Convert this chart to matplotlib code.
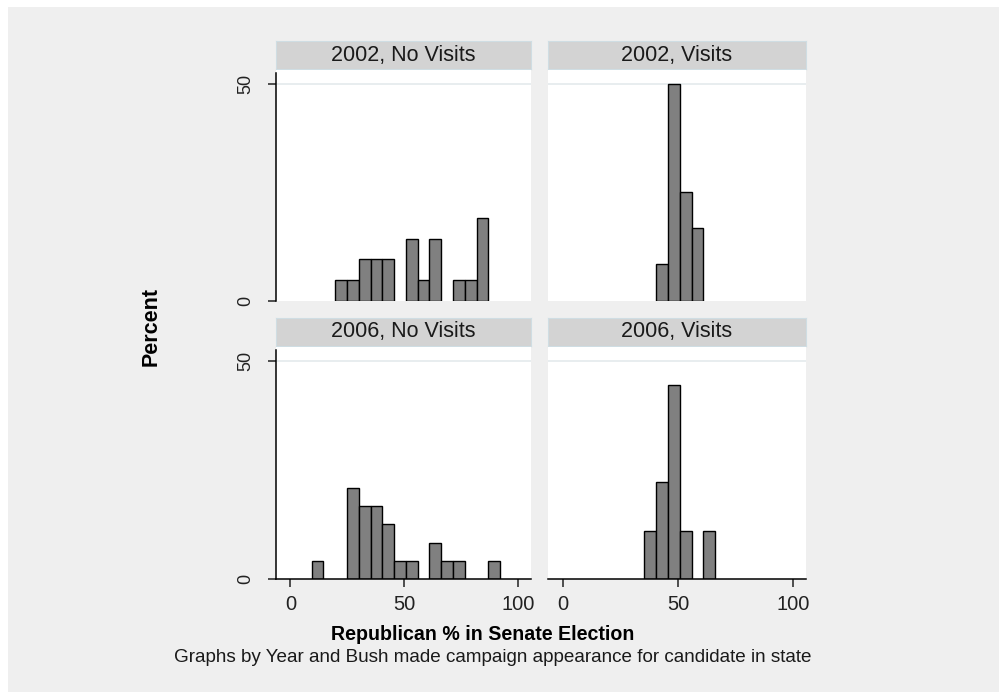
import numpy as np
import matplotlib
matplotlib.use("Agg")
import matplotlib.pyplot as plt
from matplotlib import font_manager
from matplotlib.patches import Rectangle

W, H, DPI = 999, 692, 100

# Shared histogram bins (Republican vote share, %)
bin_start = 9.3
bin_width = 5.17
n_bins = 17

panel_titles = ["2002, No Visits", "2002, Visits", "2006, No Visits", "2006, Visits"]

# Number of states falling in each bin, per panel
counts_2002_no_visits = [0, 0, 1, 1, 2, 2, 2, 0, 3, 1, 3, 0, 1, 1, 4, 0, 0]
counts_2002_visits = [0, 0, 0, 0, 0, 0, 1, 6, 3, 2, 0, 0, 0, 0, 0, 0, 0]
counts_2006_no_visits = [1, 0, 0, 5, 4, 4, 3, 1, 1, 0, 2, 1, 1, 0, 0, 1, 0]
counts_2006_visits = [0, 0, 0, 0, 0, 1, 2, 4, 1, 0, 1, 0, 0, 0, 0, 0, 0]

x_ticks = [0, 50, 100]
y_ticks = [0, 50]

installed = {f.name for f in font_manager.fontManager.ttflist}
SANS = "Liberation Sans"
NARROW = "Liberation Sans Narrow" if "Liberation Sans Narrow" in installed else SANS

BG = "#EFEFEF"
STRIP = "#D3D3D3"
BAR = "#808080"
GRID = "#E6ECEE"

fig = plt.figure(figsize=(W / DPI, H / DPI), dpi=DPI, facecolor="white")
fig.patches.append(Rectangle((8 / W, 0), 1, 1 - 7 / H, transform=fig.transFigure,
                             facecolor=BG, edgecolor="none", zorder=-10))


def fig_rect(x0, y0, x1, y1):
    return [x0 / W, 1 - y1 / H, (x1 - x0) / W, (y1 - y0) / H]


cols = [(275.5, 531), (548, 806)]
rows = [(41, 69, 70, 300.5), (318, 346, 347, 579)]
panels = [counts_2002_no_visits, counts_2002_visits, counts_2006_no_visits, counts_2006_visits]

edges = bin_start + bin_width * np.arange(n_bins)

for i, (title, counts) in enumerate(zip(panel_titles, panels)):
    r, c = divmod(i, 2)
    x0, x1 = cols[c]
    s0, s1, p0, p1 = rows[r]

    # strip label
    sax = fig.add_axes(fig_rect(x0, s0, x1, s1))
    sax.set_facecolor(STRIP)
    for sp in sax.spines.values():
        sp.set_color("#CFDDE3")
        sp.set_linewidth(0.8)
    sax.set_xticks([])
    sax.set_yticks([])
    sax.text(0.5, 0.5, title, transform=sax.transAxes, ha="center", va="center",
             family=SANS, fontsize=15.5, color="#1a1a1a")

    ax = fig.add_axes(fig_rect(x0, p0, x1, p1))
    ax.set_facecolor("white")
    ax.set_xlim(-6.5, 105.5)
    ax.set_ylim(0, 53.2)

    counts = np.asarray(counts, dtype=float)
    pct = counts / counts.sum() * 100
    nz = counts > 0
    ax.axhline(50, color=GRID, lw=1.3, zorder=1)
    ax.bar(edges[nz], pct[nz], width=bin_width, align="edge", color=BAR,
           edgecolor="black", linewidth=1.0, zorder=2)

    for sp in ["top", "right"]:
        ax.spines[sp].set_visible(False)

    if c == 0:
        ax.spines["left"].set_linewidth(1.1)
        ax.spines["left"].set_bounds(0, 52.6)
        ax.set_yticks(y_ticks)
        ax.set_yticklabels([str(v) for v in y_ticks], rotation=90, va="center",
                           family=NARROW, fontsize=13)
        ax.tick_params(axis="y", length=6, width=1.1, pad=9, colors="#222222")
    else:
        ax.spines["left"].set_visible(False)
        ax.set_yticks([])

    if r == 1:
        ax.spines["bottom"].set_linewidth(1.1)
        ax.set_xticks(x_ticks)
        ax.set_xticklabels([str(v) for v in x_ticks], family=NARROW, fontsize=14.5)
        ax.tick_params(axis="x", length=5.5, width=1.1, pad=6, colors="#222222")
    else:
        ax.spines["bottom"].set_visible(False)
        ax.set_xticks([])

fig.text(151 / W, 1 - 327 / H, "Percent", rotation=90, ha="center", va="center",
         family=SANS, fontsize=15.5, fontweight="bold", color="black")
fig.text(482.5 / W, 1 - 634 / H, "Republican % in Senate Election", ha="center",
         va="center", family=SANS, fontsize=14.1, fontweight="bold", color="black")
fig.text(493 / W, 1 - 657 / H,
         "Graphs by Year and Bush made campaign appearance for candidate in state",
         ha="center", va="center", family=SANS, fontsize=13.6, color="#1a1a1a")

fig.savefig("out.png", dpi=DPI, facecolor="white")
